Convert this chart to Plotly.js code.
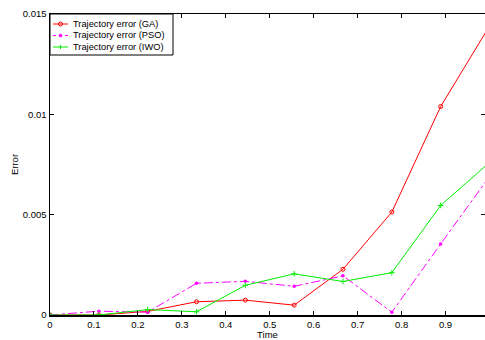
<!DOCTYPE html>
<html><head><meta charset="utf-8">
<script src="https://cdn.plot.ly/plotly-3.0.1.min.js"></script>
<style>body{margin:0;background:#fff}#c{width:485px;height:340px}</style>
</head><body><div id="c"></div>
<script>
const time = [0, 0.1111, 0.2222, 0.3333, 0.4444, 0.5556, 0.6667, 0.7778, 0.8889, 1.0];
const errGA  = [0, 0, 0.00018, 0.00066, 0.00074, 0.00049, 0.00228, 0.00513, 0.01039, 0.0144];
const errPSO = [0, 0.00019, 0.00014, 0.00158, 0.00168, 0.00143, 0.00195, 0.00014, 0.00354, 0.0069];
const errIWO = [0, 0, 0.00027, 0.00016, 0.00148, 0.00205, 0.00167, 0.00211, 0.00546, 0.0076];
const seriesNames = ['Trajectory error (GA)', 'Trajectory error (PSO)', 'Trajectory error (IWO)'];
const xTicks = [0, 0.1, 0.2, 0.3, 0.4, 0.5, 0.6, 0.7, 0.8, 0.9];
const xTickText = ['0', '0.1', '0.2', '0.3', '0.4', '0.5', '0.6', '0.7', '0.8', '0.9'];
const yTicks = [0, 0.005, 0.01, 0.015];
const yTickText = ['0', '0.005', '0.01', '0.015'];

const fam = 'Liberation Sans, Arial, sans-serif';
const colors = ['#ff0000', '#ff00ff', '#00ee00'];
const dashes = ['solid', 'dashdot', 'solid'];
const traces = [
  {x: time, y: errGA, name: seriesNames[0], mode: 'lines+markers',
   line: {color: colors[0], width: 1}, marker: {symbol: 'circle-open', size: 4, color: colors[0], line: {width: 1}}},
  {x: time, y: errPSO, name: seriesNames[1], mode: 'lines+markers',
   line: {color: colors[1], width: 1, dash: dashes[1]}, marker: {symbol: 'circle', size: 3.5, color: colors[1]}},
  {x: time, y: errIWO, name: seriesNames[2], mode: 'lines+markers',
   line: {color: colors[2], width: 1}, marker: {symbol: 'cross-thin-open', size: 4, color: colors[2], line: {width: 1, color: colors[2]}}}
];

// Compact legend (MATLAB style) built from shapes + annotations in paper coordinates
const W = 435, H = 301; // plot area in px
const px = v => v / W, py = v => v / H;
const shapes = [{type: 'rect', xref: 'paper', yref: 'paper', x0: 0, x1: px(123), y0: 1 - py(41), y1: 1,
                 line: {color: '#000', width: 1}, fillcolor: '#fff', layer: 'above'}];
const annotations = [];
seriesNames.forEach((nm, i) => {
  const yc = 1 - py(10 + 11.5 * i);
  shapes.push({type: 'line', xref: 'paper', yref: 'paper', x0: px(3), x1: px(18), y0: yc, y1: yc,
               line: {color: colors[i], width: 1, dash: i === 1 ? 'dot' : 'solid'}, layer: 'above'});
  const cx = px(10.5);
  if (i === 0) {
    shapes.push({type: 'circle', xref: 'paper', yref: 'paper', x0: cx - px(2), x1: cx + px(2), y0: yc - py(2), y1: yc + py(2),
                 line: {color: colors[i], width: 1}, layer: 'above'});
  } else if (i === 1) {
    shapes.push({type: 'circle', xref: 'paper', yref: 'paper', x0: cx - px(1.6), x1: cx + px(1.6), y0: yc - py(1.6), y1: yc + py(1.6),
                 line: {color: colors[i], width: 0.5}, fillcolor: colors[i], layer: 'above'});
  } else {
    shapes.push({type: 'line', xref: 'paper', yref: 'paper', x0: cx, x1: cx, y0: yc - py(2), y1: yc + py(2),
                 line: {color: colors[i], width: 1}, layer: 'above'});
  }
  annotations.push({xref: 'paper', yref: 'paper', x: px(21), y: yc, xanchor: 'left', yanchor: 'middle',
                    text: nm, showarrow: false, font: {family: fam, size: 9.3, color: '#000'}});
});

const layout = {
  width: 485, height: 340,
  margin: {l: 50, r: 0, t: 14, b: 25},
  paper_bgcolor: '#fff', plot_bgcolor: '#fff',
  font: {family: fam, size: 9, color: '#000'},
  showlegend: false,
  shapes: shapes, annotations: annotations,
  xaxis: {range: [0, 0.9898], tickvals: xTicks, ticktext: xTickText, ticks: 'inside', ticklen: 4,
          tickcolor: '#000', showline: true, linecolor: '#000', linewidth: 1.5, mirror: 'ticks',
          showgrid: false, zeroline: false, tickfont: {family: fam, size: 9.5, color: '#000'},
          title: {text: 'Time', font: {family: fam, size: 9.5, color: '#000'}, standoff: 0}},
  yaxis: {range: [0, 0.015], tickvals: yTicks, ticktext: yTickText, ticks: 'inside', ticklen: 4,
          tickcolor: '#000', showline: true, linecolor: '#000', linewidth: 1.5, mirror: 'ticks',
          showgrid: false, zeroline: false, tickfont: {family: fam, size: 9.5, color: '#000'},
          title: {text: 'Error', font: {family: fam, size: 9.5, color: '#000'}, standoff: 2}}
};
Plotly.newPlot('c', traces, layout, {displayModeBar: false, staticPlot: true});
</script></body></html>
